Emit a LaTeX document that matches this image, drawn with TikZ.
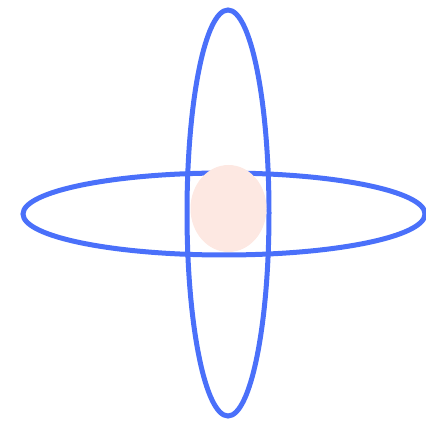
\documentclass[tikz,border=0pt]{standalone}
\definecolor{ringblue}{RGB}{74,112,250}
\definecolor{peach}{RGB}{253,232,226}
\begin{document}
\begin{tikzpicture}[x=1pt,y=-1pt]
\useasboundingbox (0,0) rectangle (426,422);
\draw[ringblue,line width=5pt] (228,213) ellipse (41 and 203);
\draw[ringblue,line width=5pt] (224,214) ellipse (201 and 41);
\fill[peach] (228.5,208.5) ellipse (38 and 43.5);
\end{tikzpicture}
\end{document}
